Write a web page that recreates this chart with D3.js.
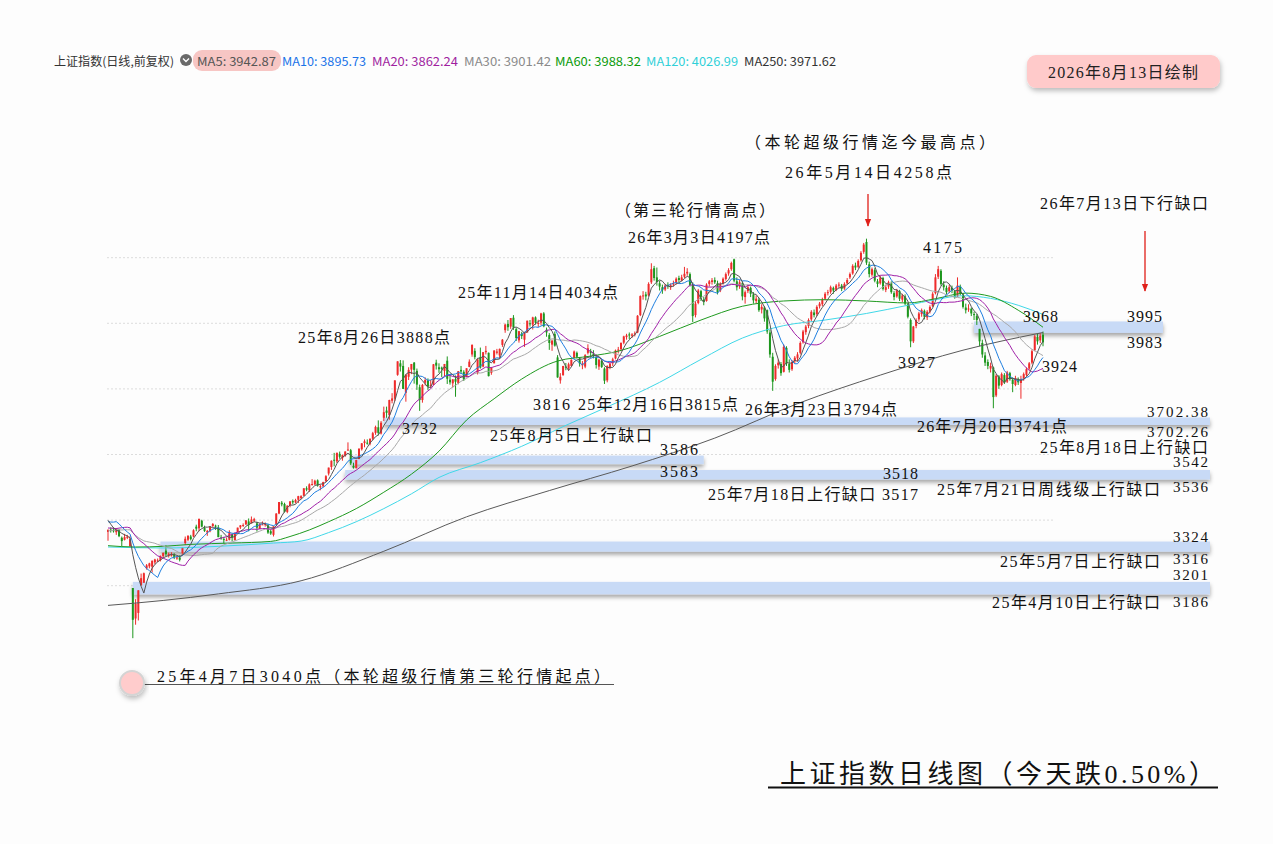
<!DOCTYPE html>
<html><head><meta charset="utf-8">
<script src="https://cdn.jsdelivr.net/npm/d3@7"></script>
<style>body{margin:0;background:#fff}svg{display:block}</style>
</head><body><svg id="c" width="1273" height="844"></svg>
<script>
// closes before the first visible candle (for MA warm-up only)
const priorCloses = [3322,3318,3346,3333,3346,3355,3324,3351,3350,3379,3373,3380,3380,3388,3320,3316,3324,3342,3381,3372,3366,3379,3371,3358,3419,3426,3429,3426,3408,3364];

// daily candles [open, high, low, close], 2025-03-24 .. 2026-08-13
const candles = [
[3364,3372,3337,3370],[3371,3378,3362,3370],[3369,3378,3362,3368],[3363,3376,3355,3373],[3370,3373,3348,3351],
[3346,3350,3320,3336],[3340,3358,3338,3348],[3346,3355,3342,3350],[3320,3352,3320,3342],[3193,3193,3040,3096],
[3100,3159,3081,3145],[3117,3186,3094,3186],[3201,3237,3201,3223],[3209,3240,3209,3238],[3253,3266,3249,3262],
[3259,3270,3253,3268],[3258,3277,3240,3276],[3271,3282,3265,3280],[3276,3283,3272,3277],[3278,3292,3274,3291],
[3290,3301,3285,3300],[3307,3323,3290,3296],[3292,3301,3286,3297],[3294,3302,3289,3295],[3295,3299,3281,3288],
[3286,3291,3279,3286],[3286,3293,3274,3279],[3295,3316,3293,3316],[3330,3350,3324,3343],[3340,3354,3336,3352],
[3350,3355,3338,3342],[3350,3372,3348,3369],[3380,3386,3366,3374],[3375,3404,3366,3404],[3398,3401,3378,3380],
[3376,3383,3364,3367],[3362,3370,3352,3367],[3366,3382,3363,3381],[3382,3391,3379,3388],[3383,3386,3370,3380],
[3378,3385,3348,3348],[3347,3355,3340,3346],[3342,3349,3329,3340],[3340,3347,3336,3340],[3340,3369,3338,3363],
[3357,3359,3336,3347],[3339,3362,3338,3361],[3363,3377,3362,3377],[3378,3385,3373,3384],[3384,3390,3379,3385],
[3387,3400,3385,3399],[3396,3405,3366,3385],[3390,3411,3390,3402],[3398,3407,3394,3403],[3390,3395,3365,3377],
[3373,3390,3373,3388],[3387,3396,3385,3387],[3385,3393,3380,3388],[3384,3389,3358,3362],[3366,3371,3355,3359],
[3355,3381,3350,3381],[3386,3421,3386,3420],[3420,3455,3418,3455],[3453,3458,3442,3448],[3449,3453,3423,3425],
[3425,3445,3421,3444],[3446,3458,3439,3457],[3458,3463,3448,3454],[3454,3465,3451,3461],[3462,3474,3452,3473],
[3467,3476,3464,3473],[3474,3497,3474,3497],[3497,3503,3488,3493],[3491,3512,3486,3509],[3508,3525,3505,3510],
[3509,3523,3507,3520],[3521,3524,3502,3505],[3503,3508,3491,3503],[3503,3517,3500,3516],[3518,3537,3517,3534],
[3542,3560,3536,3560],[3562,3582,3553,3581],[3584,3605,3564,3582],[3579,3606,3574,3605],[3602,3609,3587,3593],
[3589,3600,3581,3598],[3596,3610,3593,3609],[3613,3637,3612,3615],[3613,3617,3568,3573],[3565,3575,3557,3560],
[3559,3584,3557,3583],[3586,3618,3586,3618],[3616,3635,3612,3634],[3635,3646,3622,3640],[3636,3646,3630,3635],
[3633,3649,3628,3648],[3648,3669,3644,3665],[3666,3688,3660,3684],[3683,3704,3658,3666],[3664,3702,3661,3697],
[3712,3746,3702,3729],[3734,3746,3712,3727],[3720,3767,3706,3766],[3764,3787,3756,3771],[3770,3826,3763,3826],
[3843,3884,3840,3884],[3878,3888,3853,3868],[3870,3887,3800,3800],[3788,3845,3761,3843],[3837,3866,3827,3858],
[3859,3876,3845,3876],[3880,3882,3816,3858],[3855,3862,3797,3813],[3805,3813,3733,3766],[3766,3815,3758,3812],
[3819,3835,3810,3827],[3826,3832,3797,3807],[3812,3827,3802,3812],[3813,3876,3811,3875],[3880,3889,3859,3871],
[3866,3878,3849,3860],[3865,3868,3836,3861],[3855,3876,3839,3876],[3886,3899,3815,3831],[3828,3841,3813,3820],
[3817,3830,3804,3829],[3830,3841,3776,3822],[3818,3854,3814,3854],[3858,3870,3845,3853],[3852,3857,3824,3828],
[3836,3863,3836,3863],[3867,3890,3866,3883],[3905,3936,3898,3934],[3916,3924,3890,3897],[3849,3892,3844,3890],
[3897,3926,3862,3865],[3868,3912,3866,3912],[3912,3931,3905,3916],[3910,3911,3838,3839],[3849,3867,3843,3864],
[3878,3918,3878,3917],[3910,3922,3905,3914],[3902,3923,3893,3922],[3934,3952,3928,3950],[3979,3999,3971,3996],
[3998,4010,3977,3988],[3990,4016,3983,4016],[4017,4025,3980,3987],[3982,3987,3946,3955],[3948,3977,3941,3976],
[3968,3974,3952,3961],[3950,3974,3928,3969],[3972,4008,3972,4008],[4000,4010,3990,3998],[3996,4020,3981,4018],
[4018,4021,3996,4002],[4001,4011,3989,4001],[4002,4032,3994,4030],[4030,4034,3988,3991],[3980,3987,3959,3972],
[3964,3970,3919,3940],[3935,3950,3916,3947],[3967,3975,3929,3932],[3896,3903,3834,3835],[3826,3848,3816,3837],
[3842,3870,3840,3870],[3868,3879,3857,3865],[3863,3880,3855,3875],[3870,3890,3868,3889],[3895,3917,3893,3914],
[3910,3914,3893,3898],[3893,3896,3868,3878],[3872,3885,3860,3876],[3868,3906,3863,3903],[3910,3936,3905,3924],
[3915,3922,3895,3910],[3908,3918,3893,3900],[3897,3905,3862,3873],[3868,3892,3858,3889],[3886,3888,3864,3867],
[3862,3866,3815,3825],[3826,3872,3820,3870],[3865,3881,3860,3876],[3878,3895,3870,3890],[3893,3920,3890,3917],
[3918,3928,3908,3920],[3921,3942,3915,3940],[3941,3962,3936,3960],[3958,3968,3950,3963],[3966,3972,3952,3965],
[3962,3970,3955,3966],[3968,3975,3960,3969],[3972,4025,3970,4023],[4025,4085,4022,4083],[4083,4098,4072,4085],
[4088,4096,4070,4082],[4085,4125,4082,4120],[4125,4183,4120,4165],[4168,4175,4130,4138],[4140,4170,4115,4126],
[4122,4130,4100,4112],[4110,4118,4090,4101],[4103,4120,4098,4115],[4117,4125,4105,4113],[4110,4122,4102,4116],
[4118,4130,4112,4122],[4124,4140,4118,4136],[4138,4145,4125,4132],[4130,4148,4128,4140],[4142,4172,4138,4151],
[4152,4168,4145,4157],[4150,4155,4112,4117],[4118,4125,4004,4022],[4025,4068,4018,4060],[4062,4105,4058,4100],
[4098,4102,4068,4075],[4072,4080,4055,4065],[4068,4122,4066,4118],[4120,4132,4112,4128],[4126,4138,4118,4131],
[4132,4140,4120,4125],[4122,4130,4088,4095],[4100,4125,4095,4120],[4122,4140,4118,4136],[4135,4155,4130,4150],
[4152,4168,4145,4162],[4165,4188,4160,4184],[4195,4197,4125,4130],[4128,4140,4100,4110],[4112,4132,4105,4125],
[4122,4128,4070,4082],[4080,4100,4060,4095],[4098,4118,4092,4110],[4108,4112,4080,4090],[4088,4095,4060,4070],
[4068,4085,4060,4075],[4072,4078,4035,4040],[4042,4058,4030,4050],[4048,4052,4005,4015],[4040,4042,3968,3975],
[3972,3980,3895,3905],[3898,3910,3794,3822],[3830,3875,3825,3870],[3872,3890,3862,3880],[3876,3882,3840,3848],
[3852,3935,3850,3928],[3925,3930,3870,3878],[3876,3890,3850,3858],[3860,3888,3855,3882],[3884,3900,3878,3895],
[3893,3912,3885,3905],[3910,3945,3905,3940],[3942,3980,3938,3975],[3973,3995,3965,3990],[3992,4015,3985,4010],
[4012,4040,4005,4035],[4033,4042,4018,4025],[4028,4055,4022,4050],[4052,4065,4045,4060],[4058,4078,4052,4072],
[4075,4095,4070,4090],[4092,4102,4085,4095],[4096,4115,4090,4110],[4108,4112,4090,4100],[4102,4120,4098,4115],
[4116,4125,4108,4118],[4115,4120,4098,4105],[4106,4125,4102,4120],[4122,4138,4118,4132],[4140,4155,4135,4150],
[4152,4180,4148,4175],[4176,4185,4162,4170],[4172,4195,4168,4190],[4192,4220,4188,4215],[4218,4245,4212,4240],
[4248,4258,4178,4185],[4180,4188,4140,4150],[4148,4170,4142,4165],[4162,4168,4125,4130],[4128,4135,4110,4120],
[4122,4145,4118,4140],[4138,4142,4100,4105],[4102,4118,4095,4110],[4112,4130,4105,4125],[4122,4128,4090,4095],
[4092,4098,4070,4080],[4082,4105,4078,4100],[4098,4102,4068,4075],[4072,4090,4065,4085],[4082,4088,4055,4060],
[4058,4062,4015,4020],[4010,4015,3927,3945],[3945,3992,3940,3990],[3992,4015,3985,4010],[4012,4035,4005,4030],
[4028,4045,4020,4040],[4038,4042,4012,4020],[4018,4040,4010,4035],[4036,4055,4030,4050],[4052,4095,4050,4090],
[4092,4150,4088,4140],[4142,4175,4135,4165],[4160,4165,4115,4120],[4118,4128,4100,4110],[4108,4115,4088,4095],
[4098,4118,4092,4110],[4108,4115,4092,4100],[4098,4102,4075,4080],[4082,4140,4080,4115],[4112,4118,4085,4090],
[4088,4092,4045,4050],[4048,4060,4030,4040],[4042,4058,4035,4045],[4044,4048,4022,4030],[4028,4035,4010,4025],
[4022,4028,3995,4010],[3983,3983,3930,3945],[3940,3950,3895,3905],[3902,3912,3870,3880],[3882,3890,3860,3870],
[3862,3880,3850,3870],[3865,3868,3741,3775],[3780,3845,3775,3840],[3838,3842,3800,3810],[3812,3850,3808,3845],
[3842,3848,3815,3820],[3822,3855,3818,3850],[3848,3852,3825,3830],[3828,3835,3790,3815],[3812,3840,3808,3833],
[3830,3835,3812,3820],[3818,3840,3770,3830],[3832,3850,3825,3845],[3843,3865,3838,3860],[3862,3882,3858,3878],
[3880,3920,3875,3915],[3918,3965,3915,3960],[3958,3968,3935,3945],[3948,3970,3940,3962],[3965,3975,3930,3942]
];

// long moving averages: [candle index, value]
const ma60Pts = [[0,3322],[10,3318],[20,3320],[30,3326],[45,3330],[59,3335],[66,3350],[73,3370],[80,3395],[90,3435],[100,3485],[110,3540],[120,3610],[130,3705],[140,3770],[150,3830],[163,3885],[175,3900],[185,3915],[200,3960],[215,4010],[230,4052],[245,4068],[260,4072],[275,4068],[290,4062],[300,4075],[311,4092],[320,4082],[330,4040],[339,3988]];
const ma120Pts = [[0,3318],[20,3315],[40,3320],[60,3330],[70,3336],[80,3362],[90,3395],[100,3435],[110,3480],[120,3530],[135,3575],[150,3625],[165,3685],[181,3745],[200,3820],[215,3890],[230,3955],[245,3993],[260,4010],[275,4030],[290,4055],[300,4072],[310,4084],[320,4076],[330,4055],[339,4027]];
const ma250Pts = [[0,3140],[20,3155],[40,3175],[70,3215],[100,3305],[130,3410],[160,3490],[190,3565],[220,3650],[250,3755],[280,3842],[310,3918],[339,3972]];

const gridValues = [3200,3400,3600,3800,4000,4200];

// price gaps: high edge, low edge, first candle, last candle (null = open)
const gapHi    = [3995, 3702.38, 3586, 3542, 3324, 3201];
const gapLo    = [3983, 3702.26, 3583, 3536, 3316, 3186];
const gapStart = [314, 100, 88, 86, 19, 9];
const gapEnd   = [null, null, 216, null, null, null];
const gapRight = [1163, 1210, null, 1210, 1210, 1210];

const legendNames  = ["MA5","MA10","MA20","MA30","MA60","MA120","MA250"];
const legendValues = ["3942.87","3895.73","3862.24","3901.42","3988.32","4026.99","3971.62"];
const maColors   = ["#555555","#1e7fe0","#a020a8","#a8a8a8","#1f9a1f","#40d8e8","#5a5a5a"];
const legendColors = ["#555555","#1a73e8","#a01fa0","#8a8a8a","#0a9a0a","#30d0d8","#333333"];
const legendX = [197,282,372,464,555,646,744];
const legendW = [79,84,86,87,86,92,92];

// [text, x, y, width, font size]
const labels = [
 ["（本轮超级行情迄今最高点）",745,142,250,16],
 ["26年5月14日4258点",785,172,167,16],
 ["（第三轮行情高点）",615,210,160,16],
 ["26年3月3日4197点",628,237,142,16],
 ["26年7月13日下行缺口",1040,203,168,16],
 ["4175",923,247,39,16],
 ["25年11月14日4034点",458,292,160,16],
 ["25年8月26日3888点",298,337,152,16],
 ["3968",1023,316,35,16],
 ["3995",1127,316,35,16],
 ["3983",1127,342,35,16],
 ["3927",898,362,37,16],
 ["3924",1042,366,35,16],
 ["3816",533,404,37,16],
 ["25年12月16日3815点",578,404,160,16],
 ["26年3月23日3794点",745,409,152,16],
 ["3732",402,428,35,16],
 ["3702.38",1147,412,61,15],
 ["26年7月20日3741点",917,426,150,16],
 ["25年8月5日上行缺口",490,435,162,16],
 ["3702.26",1147,432,61,15],
 ["25年8月18日上行缺口",1040,447,168,16],
 ["3586",660,449,38,16],
 ["3542",1173,462,35,15],
 ["3583",660,471,38,16],
 ["3518",883,473,35,16],
 ["25年7月18日上行缺口 3517",708,494,210,16],
 ["25年7月21日周线级上行缺口",937,489,223,16],
 ["3536",1173,487,35,15],
 ["3324",1173,537,35,15],
 ["25年5月7日上行缺口",1000,561,160,16],
 ["3316",1173,559,35,15],
 ["3201",1173,575,35,15],
 ["25年4月10日上行缺口",992,602,168,16],
 ["3186",1173,602,35,15],
 ["25年4月7日3040点（本轮超级行情第三轮行情起点）",157,676,453,16]
];

const serif = "'Liberation Serif','Noto Sans CJK SC',serif";
const sans = "'Noto Sans CJK SC','Noto Sans',sans-serif";

const svg = d3.select("#c");
svg.append("rect").attr("width",1273).attr("height",844).attr("fill","#fdfdfd");

const defs = svg.append("defs");
const f = defs.append("filter").attr("id","sh").attr("x","-5%").attr("y","-60%").attr("width","110%").attr("height","260%");
f.append("feDropShadow").attr("dx",0).attr("dy",3).attr("stdDeviation",2).attr("flood-color","#000").attr("flood-opacity",0.35);
const f2 = defs.append("filter").attr("id","sh2").attr("x","-20%").attr("y","-40%").attr("width","140%").attr("height","180%");
f2.append("feDropShadow").attr("dx",1).attr("dy",3).attr("stdDeviation",2.5).attr("flood-color","#000").attr("flood-opacity",0.25);
defs.append("marker").attr("id","arr").attr("viewBox","0 0 10 10").attr("refX",9).attr("refY",5)
  .attr("markerWidth",6).attr("markerHeight",6).attr("orient","auto")
  .append("path").attr("d","M0,1 L10,5 L0,9 Z").attr("fill","#e0201a");

const n = candles.length;
const x = d3.scaleLinear().domain([0, n-1]).range([108, 1043]);
const y = d3.scaleLinear().domain([3200, 4200]).range([585.7, 257.7]);

// grid
svg.append("g").selectAll("line").data(gridValues).join("line")
  .attr("x1",107).attr("x2",1053).attr("y1",d=>y(d)).attr("y2",d=>y(d))
  .attr("stroke","#dcdcdc").attr("stroke-width",1).attr("stroke-dasharray","2,2");

// gap bands
const gapData = gapHi.map((h,i)=>({hi:h, lo:gapLo[i], s:gapStart[i], e:gapEnd[i], r:gapRight[i]}));
svg.append("g").selectAll("rect").data(gapData).join("rect")
  .attr("x",d=>x(d.s))
  .attr("width",d=>(d.e!=null ? x(d.e) : d.r) - x(d.s))
  .attr("y",d=>y(d.hi)-3.5)
  .attr("height",d=>y(d.lo)-y(d.hi)+7.5)
  .attr("fill","#c8daf6").attr("filter","url(#sh)");

// candles
const up = "#ee2b2b", dn = "#1d961d";
const cg = svg.append("g");
cg.selectAll("line").data(candles).join("line")
  .attr("x1",(d,i)=>x(i)).attr("x2",(d,i)=>x(i))
  .attr("y1",d=>y(d[1])).attr("y2",d=>y(d[2]))
  .attr("stroke",d=>d[3]>=d[0]?up:dn).attr("stroke-width",1);
cg.selectAll("rect").data(candles).join("rect")
  .attr("x",(d,i)=>x(i)-1).attr("width",2)
  .attr("y",d=>y(Math.max(d[0],d[3])))
  .attr("height",d=>Math.max(1, Math.abs(y(d[0])-y(d[3]))))
  .attr("fill",d=>d[3]>=d[0]?up:dn);

// moving averages
const closes = candles.map(d=>d[3]);
const all = priorCloses.concat(closes);
function ma(p){
  return closes.map((c,i)=>{
    const j = i + priorCloses.length;
    return d3.mean(all.slice(Math.max(0, j-p+1), j+1));
  });
}
const lineIdx = d3.line().x((d,i)=>x(i)).y(d=>y(d));
const linePts = d3.line().x(d=>x(d[0])).y(d=>y(d[1])).curve(d3.curveMonotoneX);
const mg = svg.append("g").attr("fill","none");
mg.append("path").attr("d",linePts(ma250Pts)).attr("stroke",maColors[6]).attr("stroke-width",1);
mg.append("path").attr("d",linePts(ma120Pts)).attr("stroke",maColors[5]).attr("stroke-width",1);
mg.append("path").attr("d",linePts(ma60Pts)).attr("stroke",maColors[4]).attr("stroke-width",1);
[[30,3],[20,2],[10,1],[5,0]].forEach(([p,ci])=>{
  mg.append("path").attr("d",lineIdx(ma(p))).attr("stroke",maColors[ci]).attr("stroke-width",1);
});

// header legend
const hg = svg.append("g").attr("font-family",sans).attr("font-size",12);
hg.append("text").attr("x",54).attr("y",60).attr("dominant-baseline","central").attr("fill","#333")
  .attr("textLength",120).attr("lengthAdjust","spacingAndGlyphs").text("上证指数(日线,前复权)");
hg.append("circle").attr("cx",186).attr("cy",60).attr("r",6).attr("fill","#6a6a6a");
hg.append("path").attr("d","M183,58.5 L186,61.5 L189,58.5").attr("stroke","#fff").attr("stroke-width",1.4).attr("fill","none");
hg.append("rect").attr("x",193).attr("y",50).attr("width",88).attr("height",21).attr("rx",9).attr("fill","#f7c6c4");
hg.selectAll("text.lg").data(legendNames).join("text").attr("class","lg")
  .attr("x",(d,i)=>legendX[i]).attr("y",60).attr("dominant-baseline","central")
  .attr("fill",(d,i)=>legendColors[i])
  .attr("textLength",(d,i)=>legendW[i]).attr("lengthAdjust","spacingAndGlyphs")
  .text((d,i)=>d+": "+legendValues[i]);

// date box
svg.append("rect").attr("x",1027).attr("y",55).attr("width",193).attr("height",33).attr("rx",9)
  .attr("fill","#ffcaca").attr("filter","url(#sh2)");
svg.append("text").attr("x",1123).attr("y",72).attr("text-anchor","middle").attr("dominant-baseline","central")
  .attr("font-family",serif).attr("font-size",16).attr("fill","#222")
  .attr("textLength",150).attr("lengthAdjust","spacing").text("2026年8月13日绘制");

// arrows
svg.append("line").attr("x1",868).attr("x2",868).attr("y1",194).attr("y2",226)
  .attr("stroke","#e0201a").attr("stroke-width",1.3).attr("marker-end","url(#arr)");
svg.append("line").attr("x1",1145).attr("x2",1145).attr("y1",231).attr("y2",291)
  .attr("stroke","#e0201a").attr("stroke-width",1.3).attr("marker-end","url(#arr)");

// annotation labels
svg.append("g").selectAll("text").data(labels).join("text")
  .attr("x",d=>d[1]).attr("y",d=>d[2]).attr("dominant-baseline","central")
  .attr("font-family",serif).attr("font-size",d=>d[4]).attr("fill","#111")
  .attr("textLength",d=>d[3]).attr("lengthAdjust","spacing")
  .text(d=>d[0]);

// start-point marker and underline
svg.append("line").attr("x1",137).attr("x2",614).attr("y1",684.5).attr("y2",684.5).attr("stroke","#555").attr("stroke-width",1);
svg.append("circle").attr("cx",132).attr("cy",683).attr("r",12).attr("fill","#ffcccc")
  .attr("stroke","#d4d4d4").attr("stroke-width",2).attr("filter","url(#sh2)");

// title
svg.append("text").attr("x",780).attr("y",774).attr("dominant-baseline","central")
  .attr("font-family",serif).attr("font-size",26).attr("fill","#111")
  .attr("textLength",435).attr("lengthAdjust","spacing").text("上证指数日线图（今天跌0.50%）");
svg.append("line").attr("x1",768).attr("x2",1218).attr("y1",787.5).attr("y2",787.5).attr("stroke","#111").attr("stroke-width",2);
</script></body></html>
